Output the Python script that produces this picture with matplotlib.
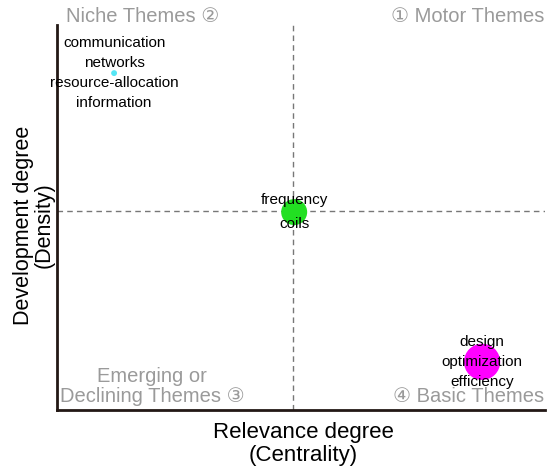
import matplotlib.pyplot as plt

# Datos del mapa estratégico
temas = ['communication\nnetworks\nresource-allocation\ninformation',
         'frequency\ncoils',
         'design\noptimization\nefficiency']
centralidad = [0.117, 0.486, 0.871]
densidad = [0.875, 0.514, 0.125]
tamanos = [18, 350, 680]
colores = ['#55e6f5', '#22e022', '#ff00ff']
interlineado = [1.53, 1.95, 1.53]
corte_x = 0.484
corte_y = 0.517

plt.rcParams['font.family'] = ['Liberation Sans', 'DejaVu Sans']

fig = plt.figure(figsize=(5.5, 4.73), dpi=100)
ax = fig.add_axes([0.1036, 0.1332, 0.8874, 0.8140])
ax.set_xlim(0, 1)
ax.set_ylim(0, 1)

ax.axvline(corte_x, color='#777777', ls=(0, (4, 3)), lw=1)
ax.axhline(corte_y, color='#777777', ls=(0, (4, 3)), lw=1)

ax.scatter(centralidad, densidad, s=tamanos, c=colores, zorder=2, linewidths=0)
for x, y, t, ls in zip(centralidad, densidad, temas, interlineado):
    ax.text(x, y, t, ha='center', va='center', fontsize=11,
            linespacing=ls, zorder=3)

gris = '#9a9a9a'
ax.text(0.018, 1.021, 'Niche Themes ②', color=gris, fontsize=14.5,
        ha='left', va='center', clip_on=False)
ax.text(0.998, 1.021, '① Motor Themes', color=gris, fontsize=14.5,
        ha='right', va='center', clip_on=False)
ax.text(0.195, 0.062, 'Emerging or\nDeclining Themes ③', color=gris,
        fontsize=14.5, ha='center', va='center', linespacing=1.05)
ax.text(0.998, 0.034, '④ Basic Themes', color=gris, fontsize=14.5,
        ha='right', va='center')

for lado in ['top', 'right']:
    ax.spines[lado].set_visible(False)
for lado in ['left', 'bottom']:
    ax.spines[lado].set_linewidth(2)
    ax.spines[lado].set_color('#231815')
ax.set_xticks([])
ax.set_yticks([])

ax.set_xlabel('Relevance degree\n(Centrality)', fontsize=16, linespacing=1.15)
ax.set_ylabel('Development degree\n(Density)', fontsize=15.5, linespacing=1.0)
ax.xaxis.set_label_coords(0.504, -0.03)
ax.yaxis.set_label_coords(-0.004, 0.48)

plt.savefig('out.png', dpi=100)
